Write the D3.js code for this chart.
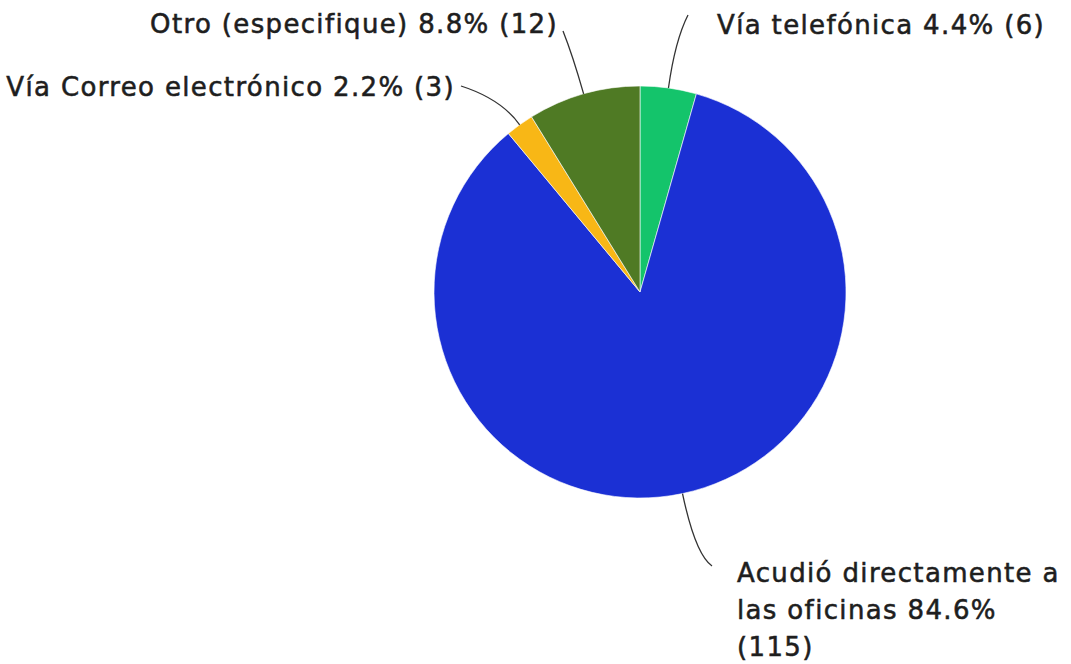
<!DOCTYPE html>
<html><head><meta charset="utf-8">
<script src="https://cdn.jsdelivr.net/npm/d3@7"></script>
<style>
html,body{margin:0;padding:0;background:#fff;}
text{font-family:"DejaVu Sans",sans-serif;font-weight:normal;fill:#1e1e1e;stroke:#1e1e1e;stroke-width:0.55px;letter-spacing:1.35px;}
</style></head>
<body>
<svg id="c" width="1071" height="664"></svg>
<script>
const categories = ["Vía telefónica", "Acudió directamente a las oficinas", "Vía Correo electrónico", "Otro (especifique)"];
const counts = [6, 115, 3, 12];
const percents = ["4.4%", "84.6%", "2.2%", "8.8%"];
const colors = ["#14c46b", "#1b30d4", "#f8b716", "#4f7a24"];

// layout
const cx = 640, cy = 292, R = 206;
const labelLayout = [
  {x: 717, y: 34, anchor: "start", end: [688, 15], ext: 48, lines: null},
  {x: 737, y: 582, anchor: "start", end: [712, 566], ext: 62, lines: ["Acudió directamente a", "las oficinas 84.6%", "(115)"]},
  {x: 455, y: 96, anchor: "end", end: [461, 86], ext: 32, lines: null},
  {x: 558, y: 33, anchor: "end", end: [563, 31], ext: 40, lines: null}
];

const svg = d3.select("#c");
const g = svg.append("g").attr("transform", `translate(${cx},${cy})`);
const data = categories.map((c, i) => ({cat: c, n: counts[i], pct: percents[i], color: colors[i], i}));
const pie = d3.pie().value(d => d.n).sort(null);
const arc = d3.arc().innerRadius(0).outerRadius(R);
const arcs = pie(data);

g.selectAll("path.slice").data(arcs).join("path")
  .attr("class", "slice")
  .attr("d", arc)
  .attr("fill", d => d.data.color)
  .attr("stroke", "#fff").attr("stroke-width", 0.6);

arcs.forEach(a => {
  const L = labelLayout[a.data.i];
  const mid = (a.startAngle + a.endAngle) / 2;
  const ux = Math.sin(mid), uy = -Math.cos(mid);
  const sx = cx + ux * R, sy = cy + uy * R;
  const qx = sx + ux * L.ext, qy = sy + uy * L.ext;
  const p = d3.path();
  p.moveTo(sx, sy);
  p.quadraticCurveTo(qx, qy, L.end[0], L.end[1]);
  svg.append("path").attr("d", p.toString()).attr("fill", "none")
    .attr("stroke", "#333").attr("stroke-width", 1.3);
  const lines = L.lines || [`${a.data.cat} ${a.data.pct} (${a.data.n})`];
  const t = svg.append("text").attr("x", L.x).attr("y", L.y)
    .attr("text-anchor", L.anchor).style("font-size", "26px");
  lines.forEach((ln, k) => {
    t.append("tspan").attr("x", L.x).attr("dy", k === 0 ? 0 : 37).text(ln);
  });
});
</script>
</body></html>
